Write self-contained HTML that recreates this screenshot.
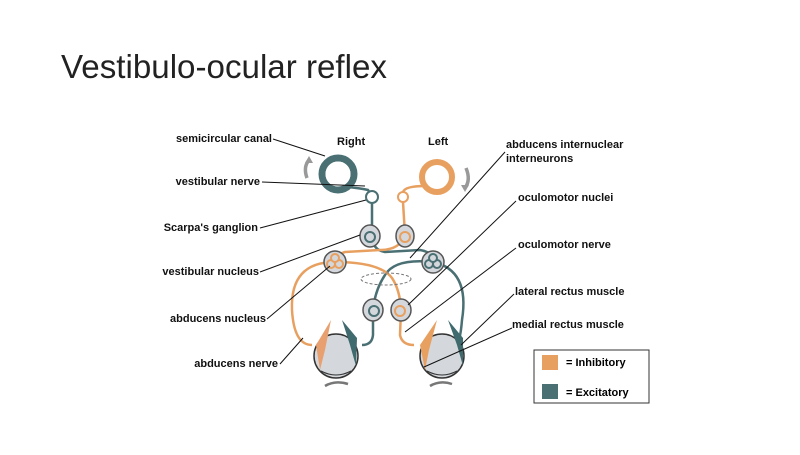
<!DOCTYPE html>
<html><head><meta charset="utf-8"><style>
body{margin:0;background:#fff;}
svg text{font-family:"Liberation Sans",Arial,sans-serif;}
</style></head><body>
<svg width="800" height="450" viewBox="0 0 800 450" xmlns="http://www.w3.org/2000/svg">
<rect width="800" height="450" fill="#fff"/>
<text x="61" y="78" font-size="33" fill="#222" textLength="326" lengthAdjust="spacingAndGlyphs">Vestibulo-ocular reflex</text>

<g font-size="11" font-weight="bold" fill="#111">
<text x="337" y="145">Right</text>
<text x="428" y="145">Left</text>
<text x="272" y="142" text-anchor="end">semicircular canal</text>
<text x="260" y="185" text-anchor="end">vestibular nerve</text>
<text x="258" y="231" text-anchor="end">Scarpa's ganglion</text>
<text x="259" y="275" text-anchor="end">vestibular nucleus</text>
<text x="266" y="322" text-anchor="end">abducens nucleus</text>
<text x="278" y="367" text-anchor="end">abducens nerve</text>
<text x="506" y="148">abducens internuclear</text>
<text x="506" y="162">interneurons</text>
<text x="518" y="201">oculomotor nuclei</text>
<text x="518" y="248">oculomotor nerve</text>
<text x="515" y="295">lateral rectus muscle</text>
<text x="512" y="328">medial rectus muscle</text>
</g>

<!-- nerves -->
<g fill="none" stroke-width="2.5">
<path d="M338 186 Q360 188 368 190 L372 196" stroke="#4a7074"/>
<path d="M372 202 L372 235 Q372 250 385 252 L420 250 Q433 252 433 262" stroke="#4a7074"/>
<path d="M433 262 Q470 270 462 320 Q460 345 455 345" stroke="#4a7074"/>
<path d="M433 262 Q395 258 385 275 Q375 290 373 310" stroke="#4a7074"/>
<path d="M373 310 L373 335 Q372 345 362 345" stroke="#4a7074"/>
<path d="M425 186 Q405 186 403 192" stroke="#e8a060"/>
<path d="M403 202 L405 235" stroke="#e8a060"/>
<path d="M405 235 Q400 250 380 250 L345 252 Q335 255 335 262" stroke="#e8a060"/>
<path d="M335 262 Q290 262 292 310 Q294 345 312 345" stroke="#e8a060"/>
<path d="M335 262 Q380 262 392 278 Q400 290 401 310" stroke="#e8a060"/>
<path d="M401 310 L400 335 Q402 345 414 345" stroke="#e8a060"/>
</g>
<ellipse cx="386" cy="279" rx="25" ry="6" fill="none" stroke="#777" stroke-dasharray="3,2"/>

<!-- canals -->
<circle cx="338" cy="174" r="16" fill="none" stroke="#4a7074" stroke-width="7"/>
<circle cx="338" cy="174" r="12" fill="none" stroke="#fff" stroke-width="1"/>
<circle cx="437" cy="177" r="15" fill="none" stroke="#e8a060" stroke-width="6"/>
<circle cx="437" cy="177" r="11" fill="none" stroke="#fff" stroke-width="1"/>
<path d="M307 178 Q303 167 309 160" fill="none" stroke="#999" stroke-width="3.5"/>
<path d="M305 163 L309 156 L313 163 Z" fill="#999"/>
<path d="M466 168 Q471 180 465 188" fill="none" stroke="#999" stroke-width="3.5"/>
<path d="M461 185 L465 192 L469 185 Z" fill="#999"/>

<!-- ganglia -->
<circle cx="372" cy="197" r="6" fill="#fff" stroke="#4a7074" stroke-width="2"/>
<circle cx="403" cy="197" r="5" fill="#fff" stroke="#e8a060" stroke-width="2"/>

<!-- nuclei -->
<g stroke="#555" stroke-width="1.5" fill="#d4d8dc">
<ellipse cx="370" cy="236" rx="10" ry="11"/>
<ellipse cx="405" cy="236" rx="9" ry="11"/>
<circle cx="335" cy="262" r="11"/>
<circle cx="433" cy="262" r="11"/>
<ellipse cx="373" cy="310" rx="10" ry="11"/>
<ellipse cx="401" cy="310" rx="10" ry="11"/>
</g>
<g fill="#d4d8dc" stroke-width="2">
<circle cx="370" cy="237" r="5" stroke="#4a7074"/>
<circle cx="405" cy="237" r="5" stroke="#e8a060"/>
<circle cx="331" cy="264" r="4" stroke="#e8a060"/><circle cx="339" cy="264" r="4" stroke="#e8a060"/><circle cx="335" cy="258" r="4" stroke="#e8a060"/>
<circle cx="429" cy="264" r="4" stroke="#4a7074"/><circle cx="437" cy="264" r="4" stroke="#4a7074"/><circle cx="433" cy="258" r="4" stroke="#4a7074"/>
<circle cx="374" cy="311" r="5" stroke="#4a7074"/>
<circle cx="400" cy="311" r="5" stroke="#e8a060"/>
</g>

<!-- eyes -->
<g stroke="#333" stroke-width="1.5" fill="#d4d8dc">
<circle cx="336" cy="356" r="22"/>
<circle cx="442" cy="356" r="22"/>
</g>
<path d="M321 371 Q336 379 351 371" fill="none" stroke="#333"/>
<path d="M427 371 Q442 379 457 371" fill="none" stroke="#333"/>
<!-- muscles -->
<path d="M331 320 L316 345 L320 370 L325 350 Z" fill="#e8a070"/>
<path d="M342 320 L357 338 L356 366 L350 345 Z" fill="#3f6a6e"/>
<path d="M437 320 L420 345 L425 370 L429 350 Z" fill="#e8a060"/>
<path d="M448 320 L463 338 L463 366 L457 345 Z" fill="#3f6a6e"/>
<path d="M325 386 Q335 380 348 384" fill="none" stroke="#777" stroke-width="2.5"/>
<path d="M430 386 Q440 380 452 384" fill="none" stroke="#777" stroke-width="2.5"/>

<!-- leaders -->
<g stroke="#111" stroke-width="1" fill="none">
<line x1="273" y1="139" x2="325" y2="156"/>
<line x1="262" y1="182" x2="365" y2="186"/>
<line x1="260" y1="228" x2="366" y2="200"/>
<line x1="260" y1="272" x2="360" y2="235"/>
<line x1="267" y1="319" x2="330" y2="266"/>
<line x1="280" y1="364" x2="303" y2="338"/>
<line x1="505" y1="152" x2="410" y2="258"/>
<line x1="516" y1="201" x2="408" y2="305"/>
<line x1="516" y1="248" x2="405" y2="332"/>
<line x1="514" y1="294" x2="461" y2="345"/>
<line x1="512" y1="328" x2="424" y2="367"/>
</g>

<!-- legend -->
<rect x="534" y="350" width="115" height="53" fill="#fff" stroke="#333" stroke-width="1"/>
<rect x="542" y="355" width="16" height="15" fill="#e8a060"/>
<rect x="542" y="384" width="16" height="15" fill="#4a7074"/>
<text x="566" y="366" font-size="11" font-weight="bold">=  Inhibitory</text>
<text x="566" y="396" font-size="11" font-weight="bold">= Excitatory</text>
</svg>
</body></html>
